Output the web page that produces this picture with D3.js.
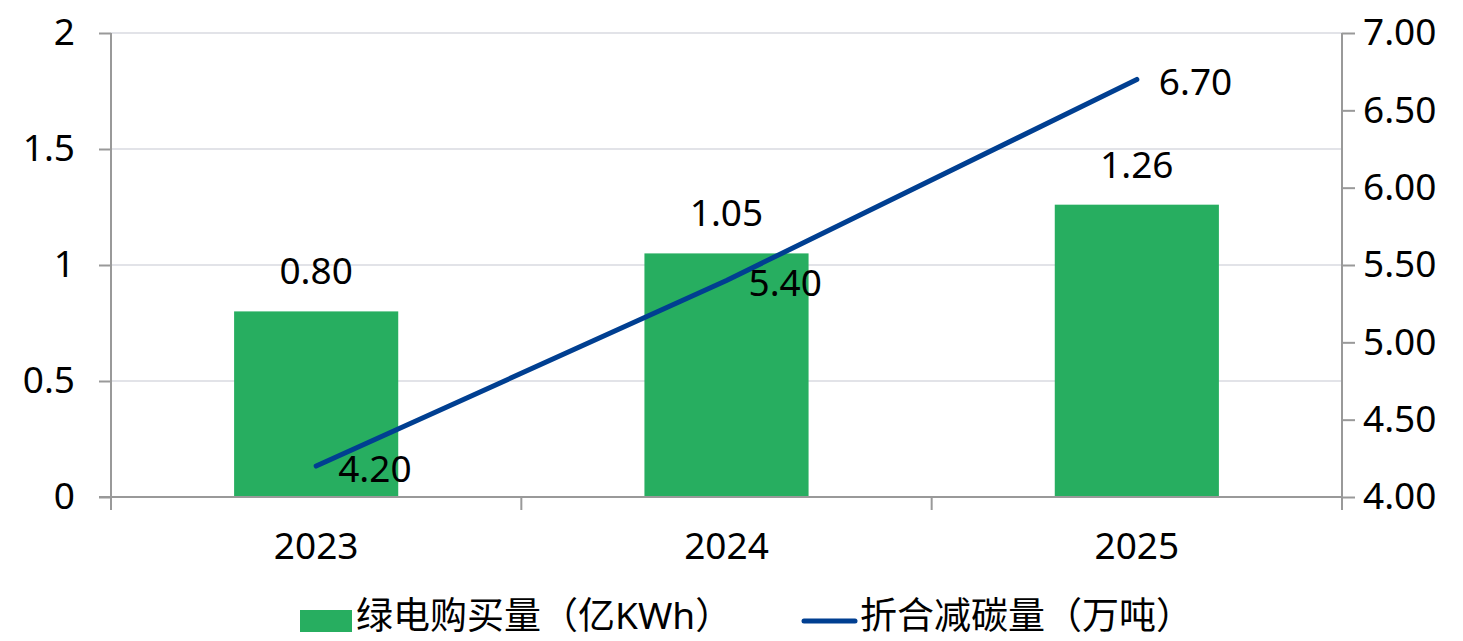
<!DOCTYPE html>
<html>
<head>
<meta charset="utf-8">
<script src="https://cdn.jsdelivr.net/npm/d3@7"></script>
<style>
  body { margin: 0; background: #fff; }
  svg { display: block; }
  svg text { font-family: "Noto Sans", "Noto Sans CJK SC", sans-serif; }
</style>
</head>
<body>
<svg id="chart" width="1463" height="641"></svg>
<script>
const anos = ["2023", "2024", "2025"];
const compraVerde = [0.80, 1.05, 1.26];   // 绿电购买量（亿KWh）
const reducaoCarbono = [4.20, 5.40, 6.70]; // 折合减碳量（万吨）
const ticksEsq = [0, 0.5, 1, 1.5, 2];
const ticksDir = [4, 4.5, 5, 5.5, 6, 6.5, 7];
const nomesSerie = ["绿电购买量（亿KWh）", "折合减碳量（万吨）"];

const verde = "#27ae60";
const azul = "#003f91";
const cinza = "#999999";

const svg = d3.select("#chart");
const m = { left: 111, right: 1342, top: 33, bottom: 497 };

const x = d3.scaleBand().domain(anos).range([m.left, m.right]);
const yEsq = d3.scaleLinear().domain([0, 2]).range([m.bottom, m.top]);
const yDir = d3.scaleLinear().domain([4, 7]).range([m.bottom, m.top]);

// Grade
svg.selectAll(".grade")
    .data(ticksEsq.slice(1))
    .enter()
    .append("line")
    .attr("stroke", "#e2e3e8")
    .attr("stroke-width", 2)
    .attr("x1", m.left)
    .attr("x2", m.right)
    .attr("y1", d => yEsq(d))
    .attr("y2", d => yEsq(d));

// Barras
const larg = x.bandwidth() * 0.4;
svg.selectAll(".barra")
    .data(compraVerde)
    .enter()
    .append("rect")
    .attr("fill", verde)
    .attr("x", (d, i) => x(anos[i]) + x.bandwidth() / 2 - larg / 2)
    .attr("width", larg)
    .attr("y", d => yEsq(d))
    .attr("height", d => yEsq(0) - yEsq(d));

// Eixos
const fonte = 37;
const eixoEsq = svg.append("g")
    .attr("transform", `translate(${m.left},0)`)
    .call(d3.axisLeft(yEsq).tickValues(ticksEsq).tickFormat(d3.format("")).tickSize(12).tickSizeOuter(0));
const eixoDir = svg.append("g")
    .attr("transform", `translate(${m.right},0)`)
    .call(d3.axisRight(yDir).tickValues(ticksDir).tickFormat(d3.format(".2f")).tickSize(13).tickSizeOuter(0));
const eixoX = svg.append("g")
    .attr("transform", `translate(0,${m.bottom})`)
    .call(d3.axisBottom(x).tickSize(0).tickSizeOuter(0));

[eixoEsq, eixoDir, eixoX].forEach(g => {
    g.attr("font-family", null).attr("font-size", null);
    g.select(".domain").attr("stroke", cinza).attr("stroke-width", 2);
    g.selectAll(".tick line").attr("stroke", cinza).attr("stroke-width", 2);
    g.selectAll("text").attr("fill", "#000").style("font-size", fonte + "px");
});
eixoEsq.selectAll("text").attr("x", -36);
eixoDir.selectAll("text").attr("x", 21);
eixoX.selectAll("text").attr("y", 36);
eixoEsq.select(".domain").attr("d", `M0,${m.top}V${m.bottom + 13}`);
eixoDir.select(".domain").attr("d", `M0,${m.top}V${m.bottom + 13}`);
eixoX.select(".domain").attr("d", `M${m.left - 12},0H${m.right}`);

// Marcas entre categorias
svg.selectAll(".sep")
    .data(anos.slice(1).concat(["fim"]))
    .enter()
    .append("line")
    .attr("stroke", cinza)
    .attr("stroke-width", 2)
    .attr("x1", (d, i) => m.left + x.step() * (i + 1))
    .attr("x2", (d, i) => m.left + x.step() * (i + 1))
    .attr("y1", m.bottom)
    .attr("y2", m.bottom + 13);

// Linha
const cx = i => x(anos[i]) + x.bandwidth() / 2;
const linha = d3.line()
    .x((d, i) => cx(i))
    .y(d => yDir(d));
svg.append("path")
    .datum(reducaoCarbono)
    .attr("fill", "none")
    .attr("stroke", azul)
    .attr("stroke-width", 5)
    .attr("stroke-linecap", "round")
    .attr("d", linha);

// Rótulos
svg.selectAll(".rot-barra")
    .data(compraVerde)
    .enter()
    .append("text")
    .attr("text-anchor", "middle")
    .style("font-size", fonte + "px")
    .attr("x", (d, i) => cx(i))
    .attr("y", d => yEsq(d) - 27)
    .text(d => d.toFixed(2));

svg.selectAll(".rot-linha")
    .data(reducaoCarbono)
    .enter()
    .append("text")
    .style("font-size", fonte + "px")
    .attr("x", (d, i) => cx(i) + 22)
    .attr("y", d => yDir(d) + 16)
    .text(d => d.toFixed(2));

// Legenda
const leg = svg.append("g");
leg.append("rect")
    .attr("fill", verde)
    .attr("x", 300).attr("y", 610).attr("width", 52).attr("height", 22);
leg.append("text")
    .style("font-size", fonte + "px")
    .attr("x", 356).attr("y", 629)
    .text(nomesSerie[0]);
leg.append("line")
    .attr("stroke", azul).attr("stroke-width", 5).attr("stroke-linecap", "round")
    .attr("x1", 804).attr("x2", 855).attr("y1", 621).attr("y2", 621);
leg.append("text")
    .style("font-size", fonte + "px")
    .attr("x", 860).attr("y", 629)
    .text(nomesSerie[1]);
</script>
</body>
</html>
